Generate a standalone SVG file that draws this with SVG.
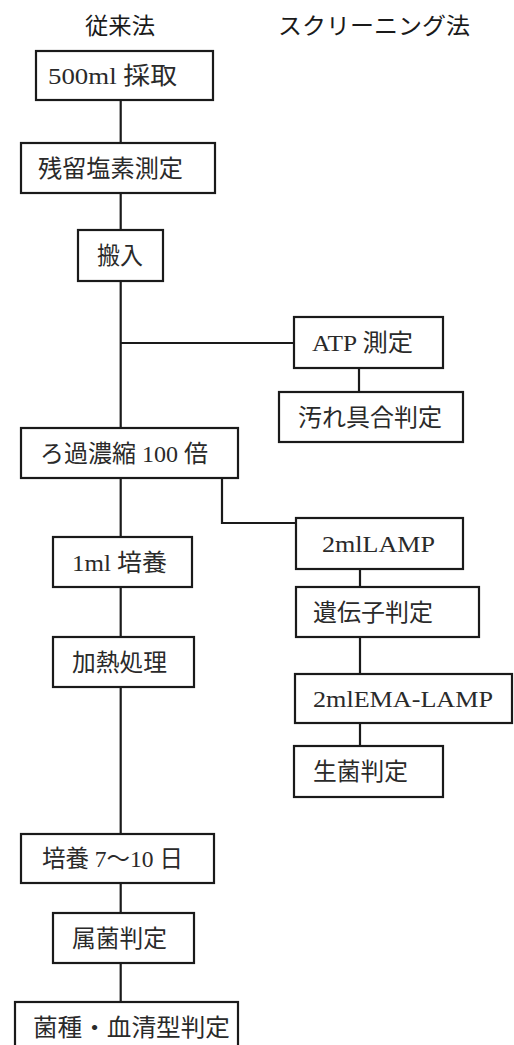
<svg xmlns="http://www.w3.org/2000/svg" width="514" height="1045" viewBox="0 0 514 1045">
<style>
.bg{fill:#ffffff}
.box{fill:#ffffff;stroke:#1a1a1a;stroke-width:2.2}
.t{font-family:"Liberation Serif","Noto Sans CJK JP",serif;font-size:24px;fill:#2a2a2a}
.h{font-family:"Noto Sans CJK JP","Noto Sans CJK SC",sans-serif;font-size:23px;fill:#1a1a1a}
.c{fill:none;stroke:#1a1a1a;stroke-width:2.2}
</style>
<rect class="bg" x="0" y="0" width="514" height="1045"/>
<g id="headers">
<text class="h" x="85" y="34" textLength="70" lengthAdjust="spacingAndGlyphs">従来法</text>
<text class="h" x="278" y="34" textLength="192" lengthAdjust="spacingAndGlyphs">スクリーニング法</text>
</g>
<g id="connectors">
<path class="c" d="M120.7 100V143M120.7 193V230M120.7 281V428M120.7 343H294"/>
<path class="c" d="M359 368V392"/>
<path class="c" d="M222 478V523H296"/>
<path class="c" d="M120.7 478V537M120.7 587V637M120.7 687V834M120.7 883V913M120.7 963V1002"/>
<path class="c" d="M360 569V587M360 637V674M360 723V746"/>
</g>
<g id="n1"><rect class="box" x="36" y="51" width="177" height="49"/><text class="t" x="48" y="84" textLength="129" lengthAdjust="spacingAndGlyphs">500ml 採取</text></g>
<g id="n2"><rect class="box" x="21" y="143" width="194" height="50"/><text class="t" x="38" y="177" textLength="145" lengthAdjust="spacingAndGlyphs">残留塩素測定</text></g>
<g id="n3"><rect class="box" x="78" y="230" width="85" height="51"/><text class="t" x="97" y="264" textLength="46" lengthAdjust="spacingAndGlyphs">搬入</text></g>
<g id="n4"><rect class="box" x="294" y="317" width="149" height="51"/><text class="t" x="312" y="351" textLength="101" lengthAdjust="spacingAndGlyphs">ATP 測定</text></g>
<g id="n5"><rect class="box" x="279" y="392" width="184" height="50"/><text class="t" x="298" y="426" textLength="144" lengthAdjust="spacingAndGlyphs">汚れ具合判定</text></g>
<g id="n6"><rect class="box" x="21" y="428" width="217" height="50"/><text class="t" x="40" y="462" textLength="168" lengthAdjust="spacingAndGlyphs">ろ過濃縮 100 倍</text></g>
<g id="n7"><rect class="box" x="296" y="518" width="167" height="51"/><text class="t" x="322" y="552" textLength="113" lengthAdjust="spacingAndGlyphs">2mlLAMP</text></g>
<g id="n8"><rect class="box" x="53" y="537" width="139" height="50"/><text class="t" x="72" y="571" textLength="95" lengthAdjust="spacingAndGlyphs">1ml 培養</text></g>
<g id="n9"><rect class="box" x="296" y="587" width="183" height="50"/><text class="t" x="313" y="621" textLength="120" lengthAdjust="spacingAndGlyphs">遺伝子判定</text></g>
<g id="n10"><rect class="box" x="53" y="637" width="141" height="50"/><text class="t" x="72" y="671" textLength="95" lengthAdjust="spacingAndGlyphs">加熱処理</text></g>
<g id="n11"><rect class="box" x="295" y="674" width="217" height="49"/><text class="t" x="313" y="707" textLength="180" lengthAdjust="spacingAndGlyphs">2mlEMA-LAMP</text></g>
<g id="n12"><rect class="box" x="294" y="746" width="149" height="51"/><text class="t" x="313" y="780" textLength="95" lengthAdjust="spacingAndGlyphs">生菌判定</text></g>
<g id="n13"><rect class="box" x="21" y="834" width="193" height="49"/><text class="t" x="42" y="867" textLength="141" lengthAdjust="spacingAndGlyphs">培養 7〜10 日</text></g>
<g id="n14"><rect class="box" x="53" y="913" width="141" height="50"/><text class="t" x="72" y="947" textLength="95" lengthAdjust="spacingAndGlyphs">属菌判定</text></g>
<g id="n15"><rect class="box" x="15" y="1002" width="223" height="50"/><text class="t" x="33" y="1036" textLength="197" lengthAdjust="spacingAndGlyphs">菌種・血清型判定</text></g>
</svg>
